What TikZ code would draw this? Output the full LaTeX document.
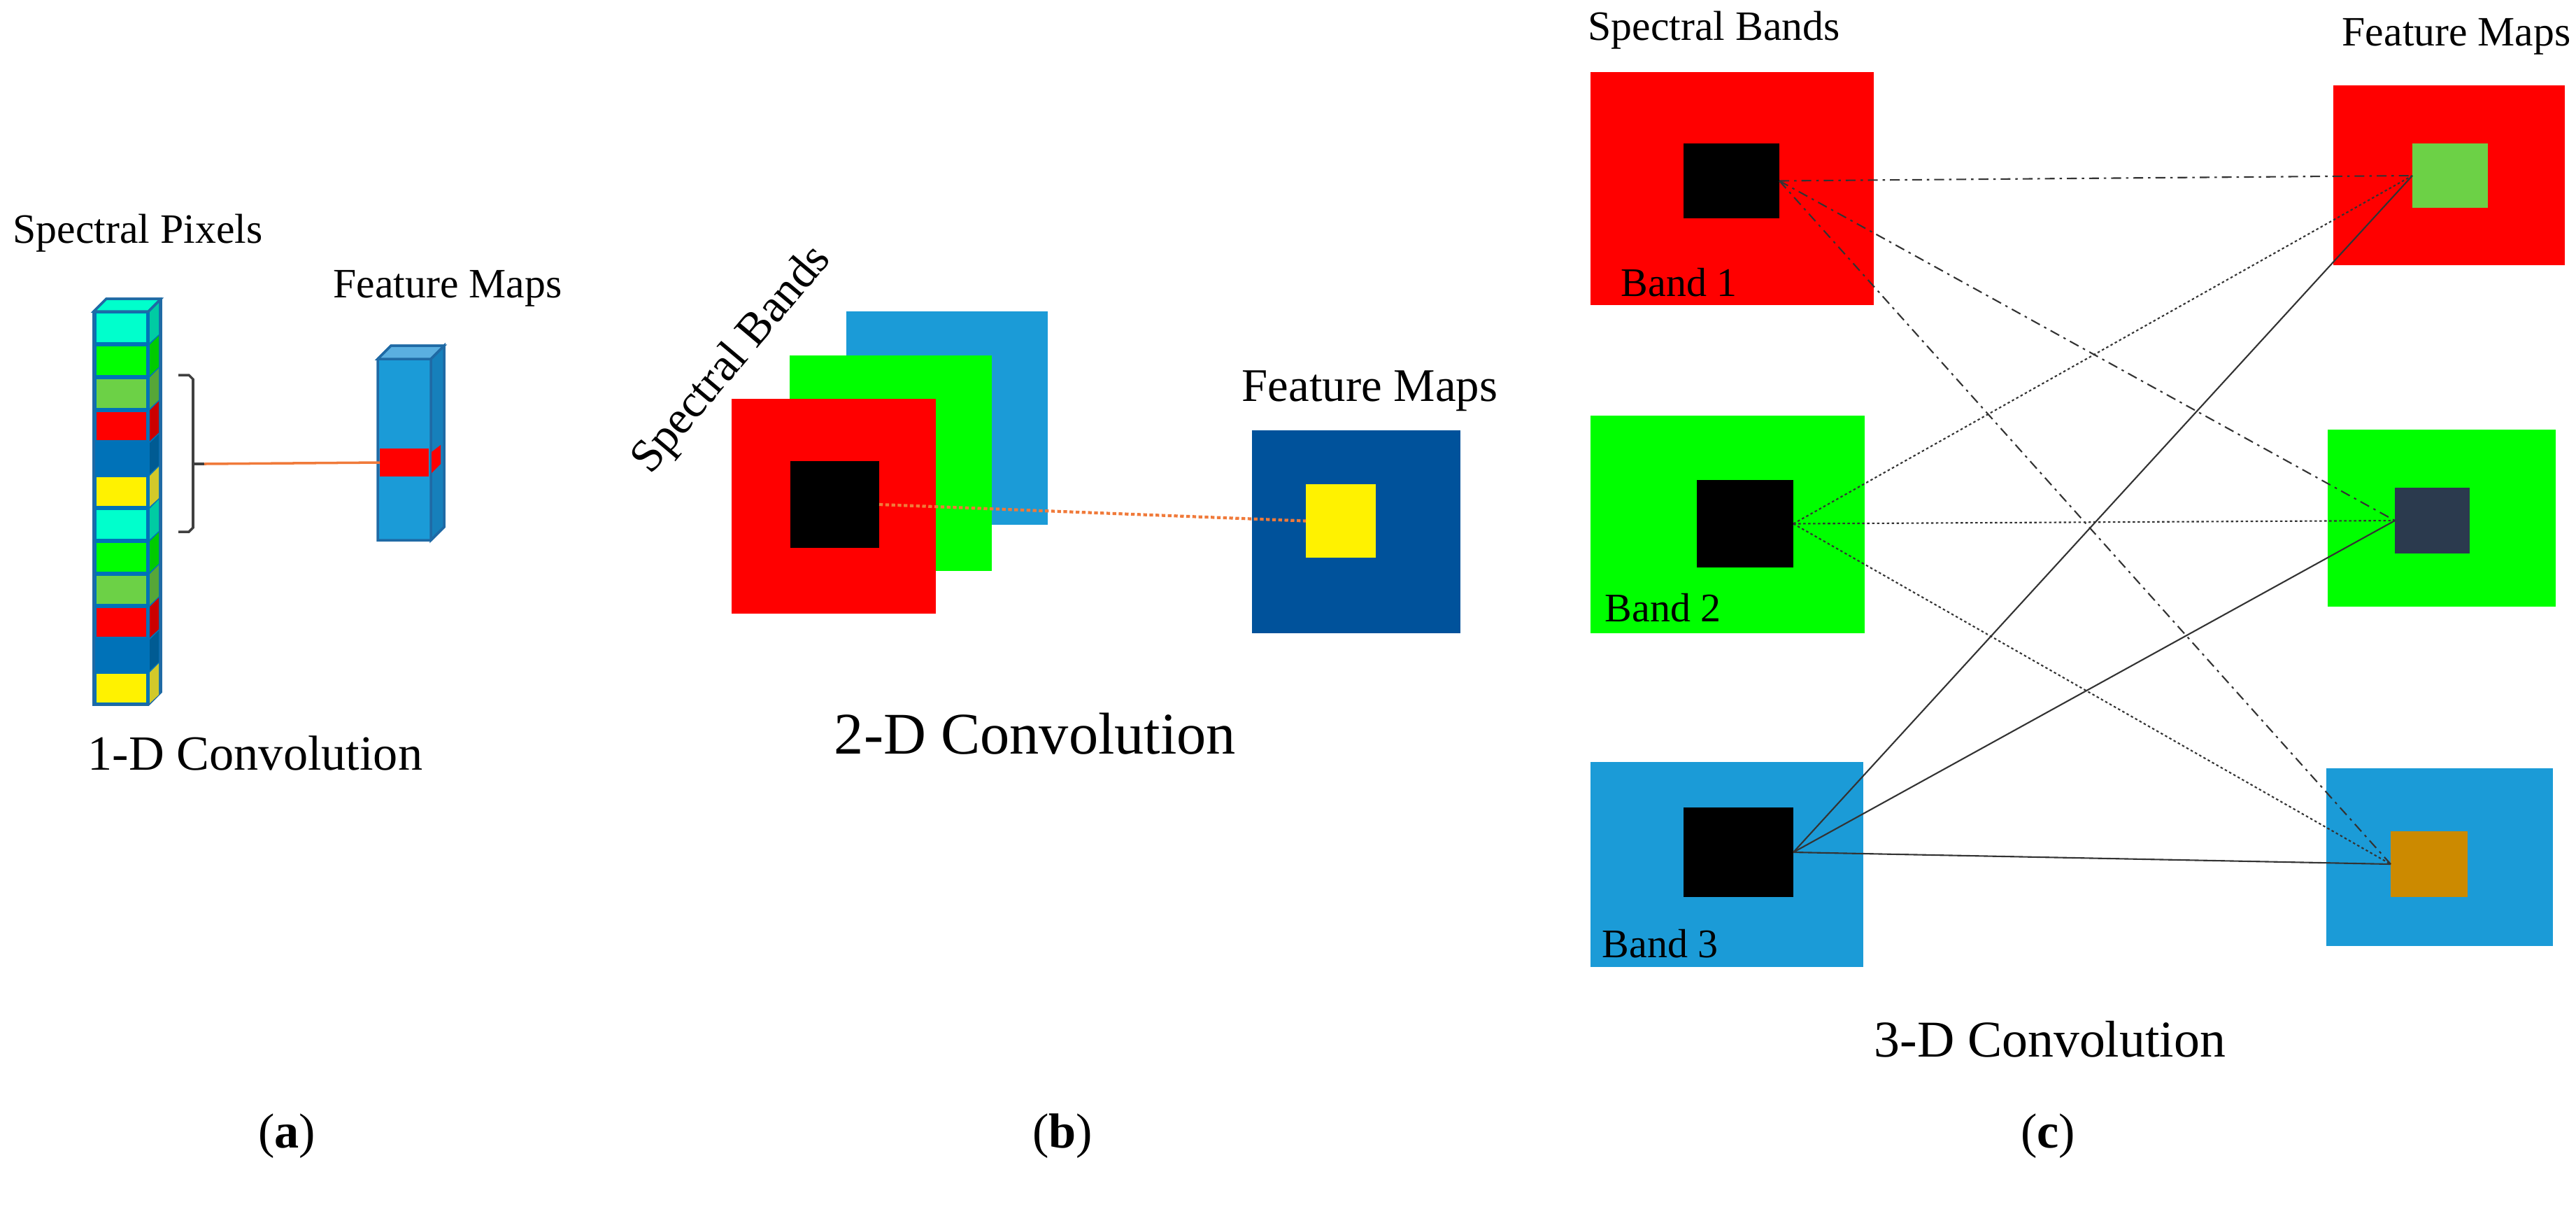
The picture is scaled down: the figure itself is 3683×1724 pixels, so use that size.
\documentclass[tikz,border=0pt]{standalone}
\usepackage{fontspec}
\setmainfont{Liberation Serif}
\usetikzlibrary{fit}
\definecolor{cyanc}{HTML}{00FFCC}
\definecolor{grn}{HTML}{00FF00}
\definecolor{lgrn}{HTML}{6CD146}
\definecolor{colblue}{HTML}{0072B8}
\definecolor{edgeblue}{HTML}{1F6AA5}
\definecolor{skyb}{HTML}{1B9BD7}
\definecolor{navy}{HTML}{00529B}
\definecolor{slate}{HTML}{2B3A4E}
\definecolor{ochre}{HTML}{CC8A00}
\definecolor{orng}{HTML}{F07A3A}
\definecolor{fmside}{HTML}{1680BB}
\definecolor{fmtop}{HTML}{5AAFE0}
\tikzset{
  box/.style={inner sep=0pt, outer sep=0pt, draw=none},
  lbl/.style={inner sep=0pt, anchor=base west},
  ddot/.style={draw=black!80, line width=0.6pt, dash pattern=on 4pt off 2pt on 1pt off 2pt},
  dots/.style={draw=black!80, line width=0.6pt, dash pattern=on 1pt off 1pt},
  sol/.style={draw=black!80, line width=0.6pt},
}
\begin{document}
\begin{tikzpicture}[x=0.1mm,y=-0.1mm]
\useasboundingbox (0,0) rectangle (3683,1724);

% ---------- (a) 1-D ----------
\node[lbl,font=\fontsize{17}{20}\selectfont] (spx) at (18,347) {Spectral Pixels};
\node[lbl,font=\fontsize{17}{20}\selectfont] (fma) at (476,425) {Feature Maps};
% column
\filldraw[fill=colblue,draw=edgeblue,line width=1pt] (134,445) -- (152,427) -- (230,427) -- (230,989) -- (212,1007) -- (134,1007) -- cycle;
\filldraw[fill=cyanc,draw=edgeblue,line width=1pt] (134,445) -- (152,427) -- (230,427) -- (212,445) -- cycle;
\foreach \c [count=\i from 0] in {cyanc,grn,lgrn,red,colblue,yellow,cyanc,grn,lgrn,red,colblue,yellow}{
  \pgfmathsetmacro{\ya}{445+\i*46.83}
  \pgfmathsetmacro{\yb}{\ya+46.83}
  \fill[\c] (138,\ya+3) rectangle (209,\yb-3);
  \fill[\c!80!black] (214,\ya+1) -- (227,\ya-12) -- (227,\yb-14) -- (214,\yb-2) -- cycle;
}
% bracket
\draw[black!75,line width=1pt] (255,536) -- (270,536) -- (276,542) -- (276,754) -- (270,760) -- (255,760);
\draw[black!75,line width=1pt] (276,663) -- (292,663);
% feature column
\filldraw[fill=skyb,draw=edgeblue,line width=1pt] (540,513) -- (559,494) -- (635,494) -- (635,753) -- (616,772) -- (540,772) -- cycle;
\filldraw[fill=fmtop,draw=edgeblue,line width=1pt] (540,513) -- (559,494) -- (635,494) -- (616,513) -- cycle;
\filldraw[fill=fmside,draw=edgeblue,line width=1pt] (616,513) -- (635,494) -- (635,753) -- (616,772) -- cycle;
\node[box,fill=red,fit={(543,641)(613,681)}] (fred) {};
\fill[red] (617,676) -- (630,663) -- (630,636) -- (617,646) -- cycle;
\coordinate (brk) at (292,663);
\draw[orng,line width=1pt] (brk) -- (fred.west);
\node[font=\fontsize{20}{24}\selectfont,anchor=base] (t1) at (365,1100) {1-D Convolution};
\node[font=\fontsize{20}{24}\selectfont,anchor=base] (la) at (410,1640) {(\textbf{a})};

% ---------- (b) 2-D ----------
\node[box,fill=skyb,fit={(1210,445)(1498,750)}] (bb) {};
\node[box,fill=grn,fit={(1129,508)(1418,816)}] (bg) {};
\node[box,fill=red,fit={(1046,570)(1338,877)}] (br) {};
\node[box,fill=black,fit={(1130,659)(1257,783)}] (bk) {};
\node[rotate=50,anchor=base west,inner sep=0pt,font=\fontsize{19}{22}\selectfont] (sb2) at (930,680) {Spectral Bands};
\node[lbl,font=\fontsize{19}{22}\selectfont] (fmb) at (1775,573) {Feature Maps};
\node[box,fill=navy,fit={(1790,615)(2088,905)}] (fm) {};
\node[box,fill=yellow,fit={(1867,692)(1967,797)}] (fy) {};
\draw[orng,line width=1.2pt,dash pattern=on 1.5pt off 1pt] (bk.east) -- (fy.west);
\node[font=\fontsize{24}{28}\selectfont,anchor=base] (t2) at (1480,1077) {2-D Convolution};
\node[font=\fontsize{20}{24}\selectfont,anchor=base] (lb) at (1519,1640) {(\textbf{b})};

% ---------- (c) 3-D ----------
\node[lbl,font=\fontsize{17}{20}\selectfont] (sb3) at (2270,57) {Spectral Bands};
\node[lbl,font=\fontsize{17}{20}\selectfont] (fm3) at (3348,65) {Feature Maps};
\node[box,fill=red,fit={(2274,103)(2679,436)}] (b1) {};
\node[box,fill=black,fit={(2407,205)(2544,312)}] (k1) {};
\node[box,fill=grn,fit={(2274,594)(2666,905)}] (b2) {};
\node[box,fill=black,fit={(2426,686)(2564,811)}] (k2) {};
\node[box,fill=skyb,fit={(2274,1089)(2664,1382)}] (b3) {};
\node[box,fill=black,fit={(2407,1154)(2564,1282)}] (k3) {};
\node[lbl,font=\fontsize{16.5}{20}\selectfont] at (2317,423) {Band 1};
\node[lbl,font=\fontsize{16.5}{20}\selectfont] at (2294,888) {Band 2};
\node[lbl,font=\fontsize{16.5}{20}\selectfont] at (2290,1368) {Band 3};
\node[box,fill=red,fit={(3336,122)(3667,379)}] (f1) {};
\node[box,fill=lgrn,fit={(3449,205)(3557,297)}] (s1) {};
\node[box,fill=grn,fit={(3328,614)(3654,867)}] (f2) {};
\node[box,fill=slate,fit={(3424,697)(3531,791)}] (s2) {};
\node[box,fill=skyb,fit={(3326,1098)(3650,1352)}] (f3) {};
\node[box,fill=ochre,fit={(3418,1188)(3528,1282)}] (s3) {};
\draw[ddot] (k1.east) -- (s1.west);
\draw[ddot] (k1.east) -- (s2.west);
\draw[ddot] (k1.east) -- (s3.west);
\draw[dots] (k2.east) -- (s1.west);
\draw[dots] (k2.east) -- (s2.west);
\draw[dots] (k2.east) -- (s3.west);
\draw[sol] (k3.east) -- (s1.west);
\draw[sol] (k3.east) -- (s2.west);
\draw[sol] (k3.east) -- (s3.west);
\node[font=\fontsize{21}{25}\selectfont,anchor=base] (t3) at (2931,1510) {3-D Convolution};
\node[font=\fontsize{20}{24}\selectfont,anchor=base] (lc) at (2928,1640) {(\textbf{c})};
\end{tikzpicture}
\end{document}
